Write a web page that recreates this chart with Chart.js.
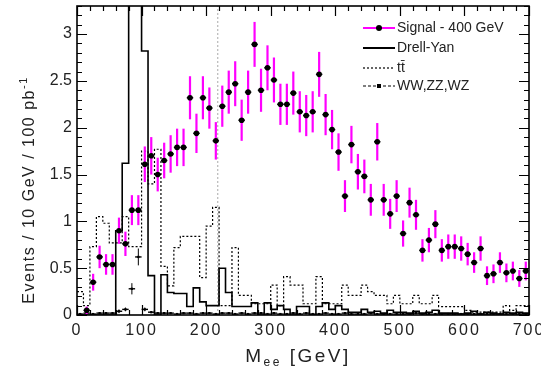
<!DOCTYPE html>
<html>
<head>
<meta charset="utf-8">
<script src="https://cdn.jsdelivr.net/npm/chart.js@4.4.1/dist/chart.umd.min.js"></script>
<style>
    html, body { margin: 0; padding: 0; background: #fff; }
    #wrap { position: relative; width: 541px; height: 377px; }
</style>
</head>
<body>
<div id="wrap"><canvas id="c" width="541" height="377"></canvas></div>
<script>
/* ===== M_ee: señal 400 GeV + fondos ===== */

// ── datos (bins de 10 GeV) ──
const binLow = [0,10,20,30,40,50,60,70,80,90,
    100,110,120,130,140,150,160,170,180,190,
    200,210,220,230,240,250,260,270,280,290,
    300,310,320,330,340,350,360,370,380,390,
    400,410,420,430,440,450,460,470,480,490,
    500,510,520,530,540,550,560,570,580,590,
    600,610,620,630,640,650,660,670,680,690];
const X_MAX = 700;
const BIN_HALF = 5;

const signal = [null,0.05,0.35,0.62,0.54,0.54,0.90,0.76,1.12,1.12,
    1.61,1.70,1.50,1.65,1.72,1.79,1.79,2.32,1.94,2.32,
    2.21,1.86,2.23,2.38,2.47,2.08,2.38,2.89,2.40,2.64,
    2.51,2.25,2.25,2.37,2.17,2.13,2.17,2.57,2.14,1.98,
    1.74,1.27,1.82,1.53,1.48,1.23,1.85,1.23,1.08,1.27,
    0.87,1.20,1.07,0.69,0.80,0.97,0.69,0.73,0.73,0.71,
    0.65,0.56,0.71,0.42,0.44,0.56,0.45,0.47,0.39,0.47];
const signalErr = [0,0.04,0.09,0.12,0.11,0.11,0.14,0.13,0.16,0.16,
    0.19,0.20,0.18,0.19,0.20,0.20,0.20,0.23,0.21,0.23,
    0.22,0.20,0.22,0.23,0.24,0.22,0.23,0.24,0.23,0.24,
    0.24,0.22,0.22,0.23,0.22,0.22,0.22,0.24,0.22,0.21,
    0.20,0.17,0.20,0.19,0.18,0.17,0.20,0.17,0.16,0.17,
    0.14,0.16,0.16,0.12,0.13,0.15,0.12,0.13,0.13,0.13,
    0.12,0.11,0.13,0.10,0.10,0.11,0.10,0.10,0.09,0.10];

const drellYan = [0,0,0,0,0,0,0.90,1.62,9.0,9.0,
    2.82,0.42,0,0.43,0.24,0.23,0.23,0.09,0.29,0.14,
    0.10,0.10,0.50,0.24,0.09,0.09,0.09,0.13,0,0.13,
    0.06,0.10,0.06,0,0.09,0.09,0,0.09,0.13,0.06,
    0.10,0.06,0.03,0.03,0.06,0.03,0.04,0.02,0.05,0.03,
    0.03,0.02,0.04,0.02,0.03,0.05,0.02,0.02,0.02,0.01,
    0.02,0.04,0.01,0.03,0.02,0.01,0.03,0.02,0.03,0.02];

const ttbar = [0.25,0.10,0.73,1.05,0.98,0.77,0.77,1.05,0.73,0.73,
    1.75,1.40,1.77,0.52,0.31,0.72,0.84,0.84,0.84,0.40,
    0.95,1.15,0.10,0.10,0.72,0.21,0.21,0.12,0.12,0.12,
    0.32,0.10,0.41,0.32,0.32,0.12,0.12,0.41,0.12,0.12,
    0.12,0.32,0.21,0.21,0.32,0.25,0.21,0.21,0.12,0.21,
    0.12,0.12,0.21,0.12,0.12,0.21,0.09,0.09,0.09,0.09,
    0.05,0.03,0.03,0.03,0.03,0.03,0.10,0.05,0.10,0.10];

const diboson = [0.01,0.02,0.01,0.02,0.02,0.02,0.04,0.06,0.28,0.62,
    0.06,0.03,0.02,0.02,0.02,0.01,0.02,0.02,0.01,0.02,
    0.02,0.01,0.02,0.02,0.01,0.02,0.01,0.02,0.02,0.01,
    0.02,0.01,0.01,0.02,0.01,0.02,0.01,0.01,0.02,0.01,
    0.01,0.02,0.01,0.01,0.01,0.02,0.01,0.01,0.01,0.01,
    0.01,0.01,0.02,0.01,0.01,0.01,0.01,0.01,0.01,0.01,
    0.01,0.01,0.01,0.01,0.01,0.01,0.01,0.01,0.01,0.01];
const dibosonErr = [0.01,0.01,0.01,0.01,0.01,0.01,0.02,0.02,0.06,0.09,
    0.02,0.01,0.01,0.01,0.01,0.01,0.01,0.01,0.01,0.01,
    0.01,0.01,0.01,0.01,0.01,0.01,0.01,0.01,0.01,0.01,
    0.01,0.01,0.01,0.01,0.01,0.01,0.01,0.01,0.01,0.01,
    0.01,0.01,0.01,0.01,0.01,0.01,0.01,0.01,0.01,0.01,
    0.01,0.01,0.01,0.01,0.01,0.01,0.01,0.01,0.01,0.01,
    0.01,0.01,0.01,0.01,0.01,0.01,0.01,0.01,0.01,0.01];

const CUT_MEE = 218;          // línea punteada gris
const Y_MAX = 3.3;
const xTickStep = 100, xMinor = 20;
const yTickStep = 0.5, yMinor = 0.1;

const legendLabels = ['Signal - 400 GeV', 'Drell-Yan', 'tt\u0304', 'WW,ZZ,WZ'];

// ── helpers ──
const centers = binLow.map(b => b + BIN_HALF);
const points = (vals) => centers.map((x, i) => ({ x, y: vals[i] }));
const histo = (vals) => binLow.map((x, i) => ({ x, y: vals[i] }))
    .concat([{ x: X_MAX, y: vals[vals.length - 1] }]);

const FONT = '"Liberation Sans", Arial, Helvetica, sans-serif';
const INK = '#222';

// ── plugin estilo ROOT: barras de error, marco, ticks, leyenda, títulos ──
const rootStyle = {
    id: 'rootStyle',
    afterLayout(chart) {
        const sx = chart.scales.x;
        if (sx._spaced) return;
        const orig = sx.drawLabels.bind(sx);
        sx.drawLabels = (area) => { const c = sx.ctx; c.save(); c.letterSpacing = '2px'; orig(area); c.restore(); };
        sx._spaced = true;
    },
    beforeDraw(chart) {
        const c = chart.ctx;
        c.save(); c.fillStyle = '#fff'; c.fillRect(0, 0, chart.width, chart.height); c.restore();
    },
    beforeDatasetDraw(chart, args) {
        const ds = chart.data.datasets[args.index];
        if (!ds.errY) return;
        const c = chart.ctx, sx = chart.scales.x, sy = chart.scales.y, a = chart.chartArea;
        c.save();
        c.beginPath(); c.rect(a.left, a.top, a.right - a.left, a.bottom - a.top); c.clip();
        ds.data.forEach((p, i) => {
            if (p.y == null) return;
            const px = sx.getPixelForValue(p.x);
            c.strokeStyle = ds.errColor; c.lineWidth = ds.errWidth;
            c.beginPath();
            c.moveTo(px, sy.getPixelForValue(p.y - ds.errY[i]));
            c.lineTo(px, sy.getPixelForValue(p.y + ds.errY[i]));
            c.stroke();
            c.strokeStyle = '#000'; c.lineWidth = 1.4;
            c.beginPath();
            c.moveTo(sx.getPixelForValue(p.x - BIN_HALF), sy.getPixelForValue(p.y));
            c.lineTo(sx.getPixelForValue(p.x + BIN_HALF), sy.getPixelForValue(p.y));
            c.stroke();
        });
        c.restore();
    },
    afterDraw(chart) {
        const c = chart.ctx, a = chart.chartArea, sx = chart.scales.x, sy = chart.scales.y;
        c.save();
        // marco
        c.strokeStyle = '#000'; c.lineWidth = 1.6;
        c.strokeRect(a.left, a.top, a.right - a.left, a.bottom - a.top);
        // ticks hacia adentro
        c.lineWidth = 1.2;
        c.beginPath();
        for (let v = 0; v <= X_MAX + 0.001; v += xMinor) {
            const px = Math.round(sx.getPixelForValue(v)) + 0.5;
            const len = (Math.abs(v % xTickStep) < 0.001) ? 10 : 5;
            c.moveTo(px, a.bottom); c.lineTo(px, a.bottom - len);
            c.moveTo(px, a.top); c.lineTo(px, a.top + len);
        }
        for (let k = 0; k * yMinor <= Y_MAX + 0.001; k++) {
            const v = k * yMinor;
            const py = Math.round(sy.getPixelForValue(v)) + 0.5;
            const len = (k % 5 === 0) ? 10 : 5;
            c.moveTo(a.left, py); c.lineTo(a.left + len, py);
            c.moveTo(a.right, py); c.lineTo(a.right - len, py);
        }
        c.stroke();

        // leyenda
        const lx0 = 363, lx1 = 395, tx = 397, rows = [28, 48, 68, 86];
        c.font = '14px ' + FONT; c.fillStyle = INK; c.textBaseline = 'middle'; c.textAlign = 'left';
        legendLabels.forEach((t, i) => c.fillText(t, tx, rows[i]));
        // señal
        c.strokeStyle = '#ff00ff'; c.lineWidth = 2; c.setLineDash([]);
        c.beginPath(); c.moveTo(lx0, rows[0]); c.lineTo(lx1, rows[0]); c.stroke();
        c.fillStyle = '#000'; c.beginPath(); c.arc((lx0 + lx1) / 2, rows[0], 3, 0, Math.PI * 2); c.fill();
        // DY
        c.strokeStyle = '#000'; c.lineWidth = 2;
        c.beginPath(); c.moveTo(lx0, rows[1]); c.lineTo(lx1, rows[1]); c.stroke();
        // tt
        c.lineWidth = 1.2; c.setLineDash([2, 2]);
        c.beginPath(); c.moveTo(lx0, rows[2]); c.lineTo(lx1, rows[2]); c.stroke();
        // dibosones
        c.setLineDash([3, 2]);
        c.beginPath(); c.moveTo(lx0, rows[3]); c.lineTo(lx1, rows[3]); c.stroke();
        c.setLineDash([]);
        c.fillRect((lx0 + lx1) / 2 - 2, rows[3] - 2, 4, 4);

        // título eje x: M_ee [GeV]
        c.fillStyle = INK; c.textBaseline = 'alphabetic'; c.letterSpacing = '2.5px';
        const base = 362;
        c.font = '19px ' + FONT;
        const wM = c.measureText('M').width;
        const wR = c.measureText(' [GeV]').width;
        c.font = '12px ' + FONT;
        const wS = c.measureText('ee').width;
        let x = 298 - (wM + wS + wR) / 2;
        c.font = '19px ' + FONT; c.fillText('M', x, base); x += wM;
        c.font = '12px ' + FONT; c.fillText('ee', x, base + 4); x += wS;
        c.font = '19px ' + FONT; c.fillText(' [GeV]', x, base);

        // título eje y
        c.letterSpacing = '1.5px';
        c.translate(34, 190); c.rotate(-Math.PI / 2);
        c.font = '16px ' + FONT;
        const main = 'Events / 10 GeV / 100 pb';
        const wm = c.measureText(main).width;
        c.font = '11px ' + FONT;
        const wsup = c.measureText('-1').width;
        let yx = -(wm + wsup) / 2;
        c.font = '16px ' + FONT; c.fillText(main, yx, 0);
        c.font = '11px ' + FONT; c.fillText('-1', yx + wm, -7);
        c.restore();
    }
};

// ── gráfico ──
new Chart(document.getElementById('c'), {
    type: 'line',
    data: {
        datasets: [
            {
                label: legendLabels[0], data: points(signal), showLine: false,
                pointRadius: 2.8, pointBackgroundColor: '#000', pointBorderWidth: 0,
                errY: signalErr, errColor: '#ff00ff', errWidth: 2.2
            },
            {
                label: legendLabels[3], data: points(diboson), showLine: false,
                pointStyle: 'rect', pointRadius: 1.6, pointBackgroundColor: '#000', pointBorderWidth: 0,
                errY: dibosonErr, errColor: '#000', errWidth: 1
            },
            {
                label: legendLabels[1], data: histo(drellYan), stepped: 'before',
                borderColor: '#000', borderWidth: 1.6, pointRadius: 0, fill: false
            },
            {
                label: legendLabels[2], data: histo(ttbar), stepped: 'before',
                borderColor: '#000', borderWidth: 1.2, borderDash: [2, 2], pointRadius: 0, fill: false
            },
            {
                label: 'cut', data: [{ x: CUT_MEE, y: 0 }, { x: CUT_MEE, y: Y_MAX }],
                borderColor: '#aaa', borderWidth: 1, borderDash: [2, 2], pointRadius: 0
            }
        ]
    },
    options: {
        responsive: false,
        animation: false,
        devicePixelRatio: 1,
        layout: { padding: { top: 6, right: 12, left: 0, bottom: 0 } },
        plugins: { legend: { display: false }, tooltip: { enabled: false } },
        scales: {
            x: {
                type: 'linear', min: 0, max: X_MAX,
                grid: { display: false, drawTicks: false }, border: { display: false },
                ticks: { stepSize: xTickStep, color: INK, padding: 6, maxRotation: 0,
                         font: { size: 16, family: FONT } },
                afterFit: s => { s.height = 62; s.paddingLeft = 0; s.paddingRight = 0; }
            },
            y: {
                min: 0, max: Y_MAX,
                grid: { display: false, drawTicks: false }, border: { display: false },
                ticks: { stepSize: yTickStep, includeBounds: false, color: INK, padding: 5,
                         font: { size: 16, family: FONT },
                         callback: v => String(+v.toFixed(1)) },
                afterFit: s => { s.width = 77; s.paddingTop = 0; s.paddingBottom = 0; }
            }
        }
    },
    plugins: [rootStyle]
});
</script>
</body>
</html>
